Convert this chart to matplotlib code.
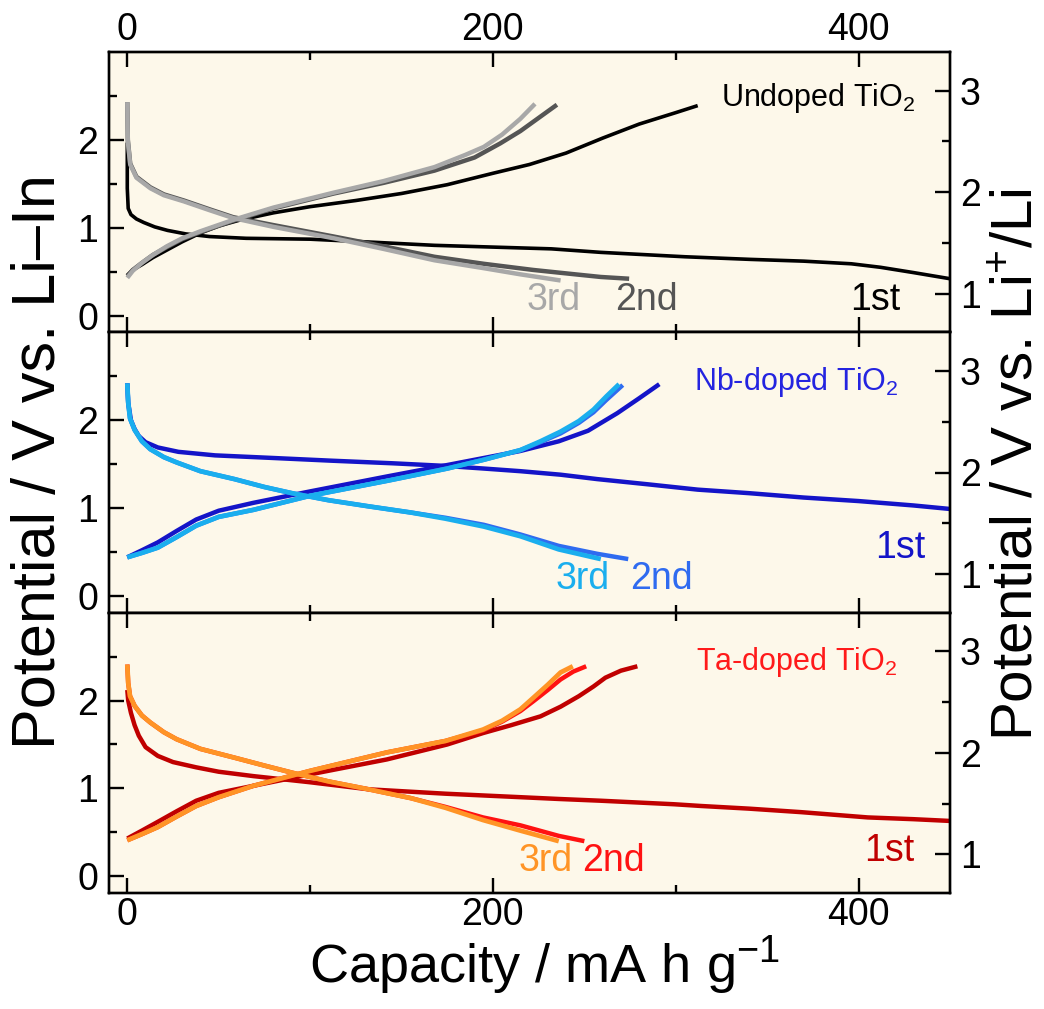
import matplotlib
matplotlib.use('Agg')
import matplotlib.pyplot as plt
from matplotlib.ticker import FixedLocator

plt.rcParams['font.family'] = ['Liberation Sans', 'DejaVu Sans']
plt.rcParams['mathtext.fontset'] = 'custom'
plt.rcParams['mathtext.rm'] = 'Liberation Sans'
plt.rcParams['mathtext.it'] = 'Liberation Sans:italic'
plt.rcParams['mathtext.bf'] = 'Liberation Sans:bold'

# ---------------- data (capacity in mA h g-1, potential in V vs Li-In) -------------
# Undoped TiO2
und_1_dis_c = [0, 0, 0.5, 2, 5, 9, 15, 22, 32, 45, 65, 100, 130, 168, 200, 232, 259, 305, 341, 370, 396, 412, 430, 450]
und_1_dis_v = [1.97, 1.45, 1.22, 1.15, 1.10, 1.06, 1.01, 0.97, 0.93, 0.90, 0.88, 0.87, 0.84, 0.80, 0.78, 0.76, 0.72, 0.67, 0.64, 0.62, 0.59, 0.55, 0.49, 0.42]
und_1_cha_c = [0, 3, 8, 14, 22, 30, 40, 50, 62, 80, 100, 125, 150, 175, 200, 220, 240, 260, 280, 300, 312]
und_1_cha_v = [0.46, 0.52, 0.58, 0.66, 0.75, 0.84, 0.94, 1.02, 1.09, 1.17, 1.24, 1.31, 1.39, 1.49, 1.62, 1.72, 1.85, 2.02, 2.18, 2.31, 2.39]
und_2_dis_c = [0, 0.3, 1.6, 5, 12.6, 20, 31, 45, 58, 80, 113, 140, 168, 195, 222, 245, 259, 274.5]
und_2_dis_v = [2.43, 2.0, 1.73, 1.58, 1.46, 1.38, 1.31, 1.21, 1.12, 1.03, 0.90, 0.79, 0.67, 0.59, 0.52, 0.47, 0.44, 0.42]
und_3_dis_c = [0, 0.3, 1.6, 5, 12.6, 20, 31, 45, 58, 80, 113, 140, 168, 195, 215, 237]
und_3_dis_v = [2.43, 1.98, 1.72, 1.57, 1.45, 1.37, 1.30, 1.20, 1.11, 1.01, 0.88, 0.76, 0.63, 0.54, 0.47, 0.40]
und_2_cha_c = [0, 3, 8, 14, 21.7, 30, 40, 58, 80, 113, 140, 168, 190, 204, 215, 225, 235]
und_2_cha_v = [0.45, 0.52, 0.60, 0.69, 0.78, 0.87, 0.95, 1.08, 1.22, 1.39, 1.51, 1.65, 1.80, 1.96, 2.10, 2.25, 2.40]
und_3_cha_c = [0, 3, 8, 14, 21.7, 30, 40, 58, 80, 113, 140, 168, 185, 195, 205, 215, 223]
und_3_cha_v = [0.43, 0.51, 0.60, 0.69, 0.79, 0.88, 0.96, 1.09, 1.23, 1.40, 1.53, 1.69, 1.83, 1.92, 2.06, 2.24, 2.41]

# Nb-doped TiO2
nb_1_dis_c = [0, 0.5, 2, 4, 6.3, 10, 16.7, 28, 48, 80, 111, 145, 174, 195, 215, 237, 257, 285, 312, 340, 370, 400, 430, 450]
nb_1_dis_v = [2.42, 2.2, 2.0, 1.9, 1.82, 1.75, 1.69, 1.64, 1.60, 1.57, 1.54, 1.51, 1.48, 1.45, 1.42, 1.38, 1.33, 1.27, 1.21, 1.17, 1.12, 1.08, 1.03, 0.99]
nb_1_cha_c = [0, 8, 16.7, 27, 37.7, 50, 69, 100, 142, 175, 195, 215, 236, 252, 268, 280, 291]
nb_1_cha_v = [0.44, 0.52, 0.61, 0.74, 0.87, 0.97, 1.06, 1.19, 1.36, 1.49, 1.57, 1.65, 1.76, 1.88, 2.08, 2.25, 2.41]
nb_2_dis_c = [0, 0.5, 1.5, 4, 8, 12.6, 20, 27, 40, 58.6, 75, 90, 110, 132, 155, 174, 195, 215, 236, 257, 274]
nb_2_dis_v = [2.42, 2.2, 2.02, 1.89, 1.76, 1.67, 1.58, 1.52, 1.42, 1.33, 1.24, 1.17, 1.09, 1.02, 0.95, 0.89, 0.81, 0.70, 0.57, 0.48, 0.42]
nb_3_dis_c = [0, 0.5, 1.5, 4, 8, 12.6, 20, 27, 40, 58.6, 75, 90, 110, 132, 155, 174, 195, 215, 236, 259]
nb_3_dis_v = [2.42, 2.2, 2.02, 1.89, 1.76, 1.67, 1.58, 1.52, 1.42, 1.33, 1.24, 1.17, 1.09, 1.02, 0.95, 0.88, 0.79, 0.68, 0.53, 0.42]
nb_2_cha_c = [0, 8, 16.7, 27, 37.7, 50, 69, 100, 142, 175, 195, 215, 226, 237, 247, 255, 262, 271]
nb_2_cha_v = [0.44, 0.49, 0.55, 0.67, 0.80, 0.90, 0.98, 1.14, 1.31, 1.45, 1.55, 1.66, 1.75, 1.85, 1.97, 2.09, 2.23, 2.40]
nb_3_cha_c = [0, 8, 16.7, 27, 37.7, 50, 69, 100, 142, 175, 195, 215, 226, 237, 247, 255, 262, 269]
nb_3_cha_v = [0.44, 0.49, 0.55, 0.67, 0.80, 0.90, 0.98, 1.14, 1.31, 1.45, 1.55, 1.66, 1.76, 1.87, 1.99, 2.12, 2.27, 2.41]

# Ta-doped TiO2
ta_1_dis_c = [0, 0.5, 2, 4, 6.3, 10, 16.7, 25, 37.7, 50, 69, 100, 132, 174, 205, 236, 259, 299, 314, 340, 368.6, 405, 430, 450]
ta_1_dis_v = [2.12, 2.0, 1.86, 1.72, 1.60, 1.47, 1.37, 1.30, 1.24, 1.19, 1.14, 1.07, 0.99, 0.94, 0.91, 0.88, 0.86, 0.82, 0.80, 0.77, 0.73, 0.67, 0.65, 0.63]
ta_1_cha_c = [0, 8, 16.7, 27, 37.7, 50, 69, 100, 142, 175, 194.6, 210, 226, 237, 247, 255, 261.5, 270, 279]
ta_1_cha_v = [0.43, 0.52, 0.62, 0.74, 0.86, 0.95, 1.03, 1.16, 1.33, 1.50, 1.63, 1.72, 1.82, 1.93, 2.05, 2.16, 2.26, 2.34, 2.39]
ta_2_dis_c = [0, 0.5, 1.5, 4, 8, 12.6, 20, 27, 40, 58.6, 75, 90, 110, 132, 155, 174, 194.6, 215, 236, 250]
ta_2_dis_v = [2.41, 2.2, 2.05, 1.94, 1.83, 1.75, 1.64, 1.56, 1.45, 1.35, 1.26, 1.18, 1.08, 0.99, 0.89, 0.79, 0.67, 0.58, 0.46, 0.40]
ta_3_dis_c = [0, 0.5, 1.5, 4, 8, 12.6, 20, 27, 40, 58.6, 75, 90, 110, 132, 155, 174, 194.6, 215, 236]
ta_3_dis_v = [2.41, 2.2, 2.05, 1.94, 1.83, 1.75, 1.64, 1.56, 1.45, 1.35, 1.26, 1.18, 1.08, 0.99, 0.89, 0.78, 0.64, 0.52, 0.40]
ta_2_cha_c = [0, 8, 16.7, 27, 37.7, 50, 69, 100, 142, 174, 194.6, 205, 215, 222, 230, 237, 244, 251]
ta_2_cha_v = [0.41, 0.48, 0.56, 0.68, 0.80, 0.90, 1.03, 1.20, 1.41, 1.54, 1.66, 1.76, 1.88, 1.99, 2.12, 2.24, 2.33, 2.39]
ta_3_cha_c = [0, 8, 16.7, 27, 37.7, 50, 69, 100, 142, 174, 194.6, 205, 215, 222, 230, 237, 243.7]
ta_3_cha_v = [0.41, 0.48, 0.56, 0.68, 0.80, 0.90, 1.03, 1.20, 1.41, 1.54, 1.67, 1.77, 1.90, 2.03, 2.18, 2.32, 2.39]

panel_titles = ['Undoped TiO$_2$', 'Nb-doped TiO$_2$', 'Ta-doped TiO$_2$']
cycle_labels = ['1st', '2nd', '3rd']
x_major = [0, 200, 400]
x_minor = [100, 300]
yl_major = [0, 1, 2]
yl_minor = [0.5, 1.5, 2.5]
yr_major = [1, 2, 3]
yr_minor = [1.5, 2.5]

# ---------------- styling ---------------------------------------------------------
bg = '#FDF8EA'
colors = [
    ['#000000', '#555555', '#A8A8A8'],
    ['#1414C8', '#2F6BF0', '#1AAEEE'],
    ['#C00000', '#FF1212', '#FF9426'],
]
title_colors = ['#000000', '#2424E0', '#FF1A1A']
lws = [[2.6, 3.2, 3.2], [3.2, 3.2, 3.4], [3.2, 3.2, 3.4]]

panels = [
    [(und_1_dis_c, und_1_dis_v), (und_1_cha_c, und_1_cha_v)],
    [(nb_1_dis_c, nb_1_dis_v), (nb_1_cha_c, nb_1_cha_v)],
    [(ta_1_dis_c, ta_1_dis_v), (ta_1_cha_c, ta_1_cha_v)],
]
panels2 = [
    [(und_2_dis_c, und_2_dis_v), (und_2_cha_c, und_2_cha_v)],
    [(nb_2_dis_c, nb_2_dis_v), (nb_2_cha_c, nb_2_cha_v)],
    [(ta_2_dis_c, ta_2_dis_v), (ta_2_cha_c, ta_2_cha_v)],
]
panels3 = [
    [(und_3_dis_c, und_3_dis_v), (und_3_cha_c, und_3_cha_v)],
    [(nb_3_dis_c, nb_3_dis_v), (nb_3_cha_c, nb_3_cha_v)],
    [(ta_3_dis_c, ta_3_dis_v), (ta_3_cha_c, ta_3_cha_v)],
]

# label positions (data coords)
title_pos = [(378, 2.48), (366, 2.43), (366, 2.44)]
lab_pos = [
    [(409, 0.18), (284, 0.18), (233, 0.18)],
    [(423, 0.55), (292, 0.19), (249, 0.19)],
    [(417, 0.29), (266, 0.17), (229, 0.17)],
]

fig = plt.figure(figsize=(10.44, 10.09), dpi=100)
L, R = 109 / 1044, 950 / 1044
T, B = 1 - 52 / 1009, 1 - 893 / 1009
H = (T - B) / 3

tick_fs = 27
spine_lw = 1.7

for i in range(3):
    ax = fig.add_axes([L, T - (i + 1) * H, R - L, H])
    ax.set_facecolor(bg)
    for cyc, data in enumerate([panels[i], panels2[i], panels3[i]]):
        for c, v in data:
            ax.plot(c, v, color=colors[i][cyc], lw=lws[i][cyc], solid_capstyle='butt',
                    solid_joinstyle='round', zorder=2 + cyc)
    ax.set_xlim(-10, 450)
    ax.set_ylim(-0.19, 3.0)
    ax.xaxis.set_major_locator(FixedLocator(x_major))
    ax.xaxis.set_minor_locator(FixedLocator(x_minor))
    ax.yaxis.set_major_locator(FixedLocator(yl_major))
    ax.yaxis.set_minor_locator(FixedLocator(yl_minor))
    ax.tick_params(axis='both', which='both', direction='in', width=spine_lw,
                   labelsize=tick_fs, top=True, bottom=True, left=True, right=False)
    ax.tick_params(which='major', length=11)
    ax.tick_params(which='minor', length=6)
    ax.tick_params(axis='y', pad=8)
    ax.tick_params(axis='x', labeltop=(i == 0), labelbottom=(i == 2))
    ax.tick_params(axis='x', which='major', pad=3)
    for s in ax.spines.values():
        s.set_linewidth(spine_lw)

    ax2 = ax.twinx()
    ax2.set_ylim(0.62, 3.38)
    ax2.yaxis.set_major_locator(FixedLocator(yr_major))
    ax2.yaxis.set_minor_locator(FixedLocator(yr_minor))
    ax2.tick_params(axis='y', which='both', direction='in', width=spine_lw,
                    labelsize=tick_fs, pad=7)
    ax2.tick_params(which='major', length=11)
    ax2.tick_params(which='minor', length=6)
    for s in ax2.spines.values():
        s.set_linewidth(spine_lw)

    ax.text(title_pos[i][0], title_pos[i][1], panel_titles[i], color=title_colors[i],
            fontsize=22, ha='center', va='center', zorder=10)
    for cyc in range(3):
        ax.text(lab_pos[i][cyc][0], lab_pos[i][cyc][1], cycle_labels[cyc],
                color=colors[i][cyc], fontsize=27, ha='center', va='center', zorder=10)

fig.text(40 / 1044, 1 - 462 / 1009, 'Potential / V vs. Li–In', rotation=90,
         fontsize=44, ha='center', va='center')
fig.text(1017 / 1044, 1 - 465 / 1009, 'Potential / V vs. Li$^{+}$/Li', rotation=90,
         fontsize=42, ha='center', va='center')
fig.text(545 / 1044, 1 - 966 / 1009, 'Capacity / mA h g$^{−1}$',
         fontsize=39, ha='center', va='center')

fig.savefig('out.png', dpi=100, facecolor='white')
